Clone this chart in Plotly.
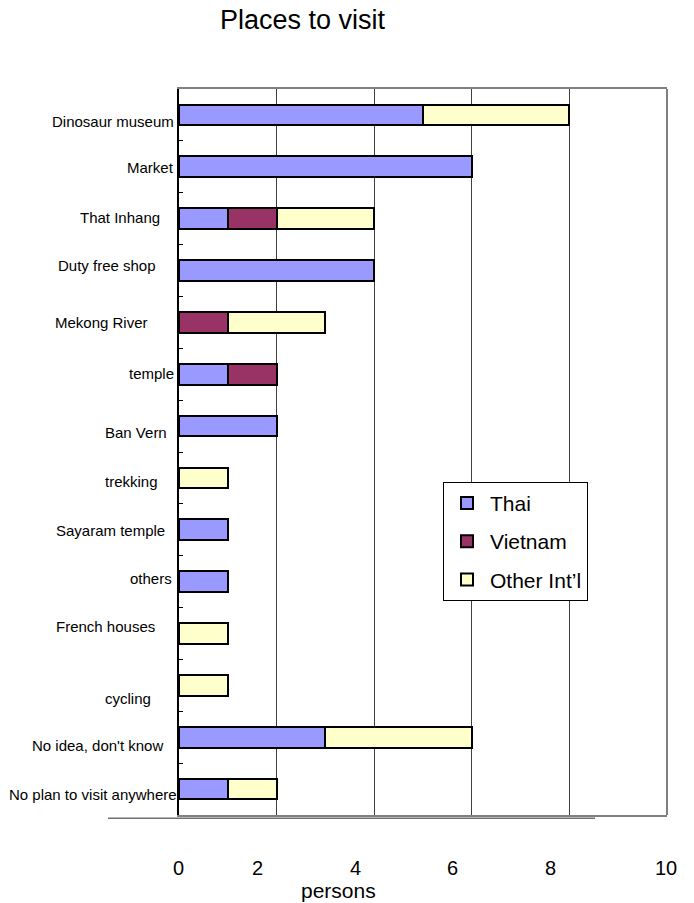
import plotly.graph_objects as go

# Survey answers: places respondents plan to visit, by visitor group (persons)
places = [
    "Dinosaur museum", "Market", "That Inhang", "Duty free shop", "Mekong River",
    "temple", "Ban Vern", "trekking", "Sayaram temple", "others", "French houses",
    "cycling", "No idea, don't know", "No plan to visit anywhere",
]
thai = [5, 6, 1, 4, 0, 1, 2, 0, 1, 1, 0, 0, 3, 1]
vietnam = [0, 0, 1, 0, 1, 1, 0, 0, 0, 0, 0, 0, 0, 0]
other_intl = [3, 0, 2, 0, 2, 0, 0, 1, 0, 0, 1, 1, 3, 1]

x_ticks = [0, 2, 4, 6, 8, 10]

# label placement tweaks (pixels): right edge of each category label, vertical offset
label_right_px = [-3, -3, -17, -21, -29, -3, -10, -19, -12, -5, -22, -26, -14, 0]
label_dy_px = [-7, -1, 1, 5, 0, 1, -6, -4, -1, 3, 7, -13, -8, -5]
tick_dx_px = [-1, -19, -19, -19, -19, -1]

font_family = "Liberation Sans, Arial, sans-serif"

series = [
    ("Thai", thai, "#9999FF"),
    ("Vietnam", vietnam, "#993366"),
    ("Other Int\u2019l", other_intl, "#FFFFCC"),
]

fig = go.Figure()
for i, (name, vals, color) in enumerate(series):
    fig.add_trace(go.Bar(
        y=places, x=vals, name=name, orientation="h",
        width=0.4,
        marker=dict(color=color, line=dict(color="black", width=2)),
        legendgroup=name,
    ))

annotations = []
for place, rx, dy in zip(places, label_right_px, label_dy_px):
    annotations.append(dict(
        x=0, xref="paper", y=place, yref="y",
        text=place, showarrow=False, xanchor="right", yanchor="middle",
        xshift=rx, yshift=dy,
        font=dict(family=font_family, size=15, color="black"),
    ))
for v, dx in zip(x_ticks, tick_dx_px):
    annotations.append(dict(
        x=v, xref="x", y=-0.073, yref="paper",
        text=str(v), showarrow=False, xanchor="center", yanchor="middle",
        xshift=dx,
        font=dict(family=font_family, size=20, color="black"),
    ))
annotations.append(dict(
    x=0.326, xref="paper", y=-0.104, yref="paper",
    text="persons", showarrow=False, xanchor="center", yanchor="middle",
    font=dict(family=font_family, size=21, color="black"),
))

shapes = [
    # right frame edge
    dict(type="line", xref="paper", yref="paper", x0=1, x1=1, y0=0, y1=1,
         line=dict(color="#808080", width=2)),
    # rule under the plot area
    dict(type="line", xref="paper", yref="paper", x0=-0.1455, x1=0.8525,
         y0=-0.0045, y1=-0.0045, line=dict(color="#707070", width=1.5)),
]

fig.update_layout(
    width=694, height=903,
    margin=dict(l=179, r=27, t=89, b=88),
    paper_bgcolor="white", plot_bgcolor="white",
    barmode="stack",
    title=dict(text="Places to visit", x=0.317, xanchor="left",
               y=0.978, yanchor="middle",
               font=dict(family=font_family, size=27, color="black")),
    xaxis=dict(range=[0, 10], tickvals=x_ticks, showticklabels=False,
               showgrid=True, gridcolor="#404040", gridwidth=1,
               showline=True, linecolor="#808080", linewidth=2, mirror=True,
               ticks="", zeroline=False, fixedrange=True),
    yaxis=dict(autorange="reversed", showticklabels=False,
               ticks="inside", tickson="boundaries", ticklen=4,
               tickcolor="black", tickwidth=1,
               showline=True, linecolor="black", linewidth=2,
               showgrid=False, zeroline=False),
    legend=dict(x=0.541, y=0.459, xanchor="left", yanchor="top",
                bgcolor="white", bordercolor="black", borderwidth=1,
                traceorder="grouped", tracegroupgap=8, itemwidth=36,
                entrywidth=150, entrywidthmode="pixels",
                font=dict(family=font_family, size=21, color="black")),
    annotations=annotations,
    shapes=shapes,
)

fig.write_html("out.html")
